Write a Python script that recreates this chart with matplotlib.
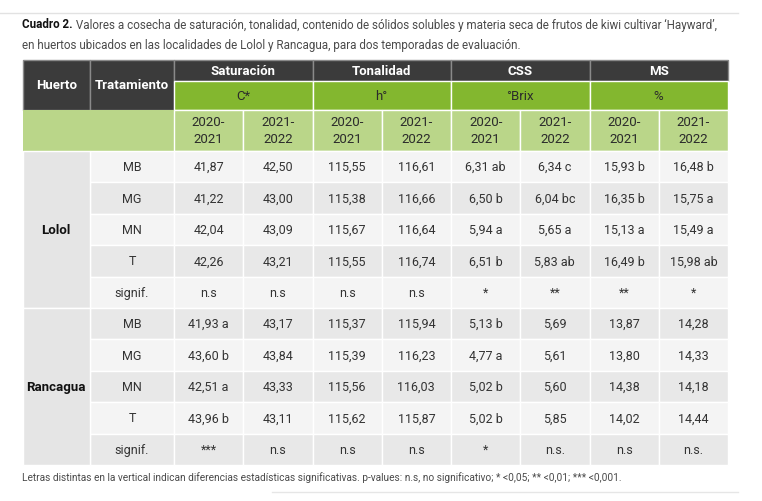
import matplotlib
matplotlib.use('Agg')
import matplotlib.pyplot as plt
from matplotlib.patches import Rectangle

plt.rcParams['font.family'] = ['Roboto', 'DejaVu Sans']

# --- data ---
huertos = ['Lolol', 'Rancagua']
tratamientos = ['MB', 'MG', 'MN', 'T', 'signif.']
variables = ['Saturación', 'Tonalidad', 'CSS', 'MS']
unidades = ['C*', 'h°', '°Brix', '%']
temporadas = ['2020-\n2021', '2021-\n2022']

sat_2021 = ['41,87', '41,22', '42,04', '42,26', 'n.s',
            '41,93 a', '43,60 b', '42,51 a', '43,96 b', '***']
sat_2122 = ['42,50', '43,00', '43,09', '43,21', 'n.s',
            '43,17', '43,84', '43,33', '43,11', 'n.s']
ton_2021 = ['115,55', '115,38', '115,67', '115,55', 'n.s',
            '115,37', '115,39', '115,56', '115,62', 'n.s']
ton_2122 = ['116,61', '116,66', '116,64', '116,74', 'n.s',
            '115,94', '116,23', '116,03', '115,87', 'n.s']
css_2021 = ['6,31 ab', '6,50 b', '5,94 a', '6,51 b', '*',
            '5,13 b', '4,77 a', '5,02 b', '5,02 b', '*']
css_2122 = ['6,34 c', '6,04 bc', '5,65 a', '5,83 ab', '**',
            '5,69', '5,61', '5,60', '5,85', 'n.s.']
ms_2021 = ['15,93 b', '16,35 b', '15,13 a', '16,49 b', '**',
           '13,87', '13,80', '14,38', '14,02', 'n.s']
ms_2122 = ['16,48 b', '15,75 a', '15,49 a', '15,98 ab', '*',
           '14,28', '14,33', '14,18', '14,44', 'n.s.']
columnas = [sat_2021, sat_2122, ton_2021, ton_2122,
            css_2021, css_2122, ms_2021, ms_2122]

caption_bold = 'Cuadro 2.'
caption_1 = (' Valores a cosecha de saturación, tonalidad, contenido de sólidos solubles '
             'y materia seca de frutos de kiwi cultivar \u2018Hayward\u2019,')
caption_2 = 'en huertos ubicados en las localidades de Lolol y Rancagua, para dos temporadas de evaluación.'
nota = ('Letras distintas en la vertical indican diferencias estadísticas significativas. '
        'p-values: n.s, no significativo; * <0,05; ** <0,01; *** <0,001.')

# --- layout (pixels) ---
DARK = '#3b3b3b'
GREEN = '#83b72f'
LGREEN = '#bad689'
ROW_A = '#f4f4f4'
ROW_B = '#e8e8e8'
HUERTO_BG = '#e5e5e5'
TXT = '#2b2b2b'

x0, x_trat, x_data = 22.5, 90, 174
col_w = (728 - x_data) / 8
y_h1, y_h2, y_h3, y_body = 60.5, 82, 111, 152
row_h = (466 - y_body) / 10

FS_HEAD = 9.5
FS_BODY = 9

fig = plt.figure(figsize=(7.62, 5.02), dpi=100)
ax = fig.add_axes([0, 0, 1, 1])
ax.set_xlim(0, 762)
ax.set_ylim(502, 0)
ax.axis('off')


def cell(x, y, w, h, color, ec='white', lw=1.0):
    ax.add_patch(Rectangle((x, y), w, h, facecolor=color, edgecolor=ec, lw=lw))


def width_of(t):
    fig.canvas.draw()
    bb = t.get_window_extent().transformed(ax.transData.inverted())
    return bb.x0, bb.x1


def fitted_text(x, y, s, x_end, **kw):
    t = ax.text(x, y, s, **kw)
    a, b = width_of(t)
    t.set_fontsize(t.get_fontsize() * (x_end - a) / (b - a))
    return t


# top rule and bottom short rule
ax.plot([0, 738], [14, 14], color='#e2e2e2', lw=1)
ax.plot([272, 738], [493, 493], color='#e6e6e6', lw=1)

# caption
t = ax.text(x0, 25, caption_bold, fontsize=9, fontweight='bold', color='#111',
            va='center', ha='left')
_, bx = width_of(t)
t1 = ax.text(bx, 25, caption_1, fontsize=9, color='#4a4a4a', va='center', ha='left')
a, b = width_of(t1)
scale = (723 - x0) / (b - x0)
t.set_fontsize(9 * scale)
_, bx = width_of(t)
t1.set_fontsize(9 * scale)
t1.set_x(bx)
fitted_text(x0, 45, caption_2, 525, fontsize=9, color='#4a4a4a', va='center', ha='left')

# header
cell(x0, y_h1, x_trat - x0, y_h3 - y_h1, DARK, ec='#8a8a8a')
cell(x_trat, y_h1, x_data - x_trat, y_h3 - y_h1, DARK, ec='#8a8a8a')
ax.text((x0 + x_trat) / 2, (y_h1 + y_h3) / 2, 'Huerto', color='white',
        fontsize=FS_HEAD, fontweight='bold', ha='center', va='center')
ax.text((x_trat + x_data) / 2, (y_h1 + y_h3) / 2, 'Tratamiento', color='white',
        fontsize=FS_HEAD, fontweight='bold', ha='center', va='center')
for i, (var, uni) in enumerate(zip(variables, unidades)):
    gx = x_data + 2 * i * col_w
    cell(gx, y_h1, 2 * col_w, y_h2 - y_h1, DARK, ec='#8a8a8a')
    cell(gx, y_h2, 2 * col_w, y_h3 - y_h2, GREEN)
    ax.text(gx + col_w, (y_h1 + y_h2) / 2, var, color='white', fontsize=FS_HEAD,
            fontweight='bold', ha='center', va='center')
    ax.text(gx + col_w, (y_h2 + y_h3) / 2, uni, color=TXT, fontsize=FS_HEAD,
            ha='center', va='center')

# season row
ax.add_patch(Rectangle((x0, y_h3), x_data - x0, y_body - y_h3, facecolor=LGREEN, lw=0))
for j in range(8):
    cx = x_data + j * col_w
    cell(cx, y_h3, col_w, y_body - y_h3, LGREEN)
    ax.text(cx + col_w / 2, (y_h3 + y_body) / 2, temporadas[j % 2], color=TXT,
            fontsize=FS_HEAD, ha='center', va='center', linespacing=1.4)

# body
for r in range(10):
    y = y_body + r * row_h
    bg = ROW_A if r % 2 == 0 else ROW_B
    cell(x_trat, y, x_data - x_trat, row_h, bg)
    ax.text((x_trat + x_data) / 2, y + row_h / 2, tratamientos[r % 5], color='#333',
            fontsize=FS_BODY, ha='center', va='center')
    for j, col in enumerate(columnas):
        cx = x_data + j * col_w
        cell(cx, y, col_w, row_h, bg)
        ax.text(cx + col_w / 2, y + row_h / 2, col[r], color='#333', fontsize=FS_BODY,
                ha='center', va='center')

for k, h in enumerate(huertos):
    y = y_body + 5 * k * row_h
    cell(x0, y, x_trat - x0, 5 * row_h, HUERTO_BG)
    ax.text((x0 + x_trat) / 2, y + 2.5 * row_h, h, color='#111', fontsize=FS_HEAD,
            fontweight='bold', ha='center', va='center')

fitted_text(x0, 478, nota, 627, fontsize=8, color='#4a4a4a', va='center', ha='left')

fig.savefig('out.png', dpi=100)
